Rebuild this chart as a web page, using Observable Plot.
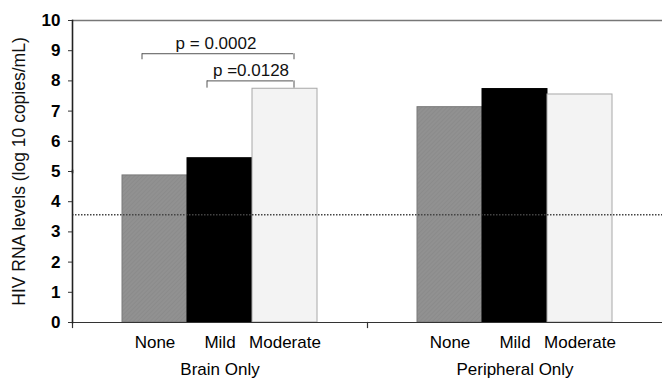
<!DOCTYPE html>
<html>
<head>
<meta charset="utf-8">
<script src="https://cdn.jsdelivr.net/npm/d3@7"></script>
<script src="https://cdn.jsdelivr.net/npm/@observablehq/plot@0.6"></script>
<style>
  html, body { margin: 0; padding: 0; background: #fff; }
  svg { font-family: "Liberation Sans", Arial, sans-serif; }
</style>
</head>
<body>
<div id="chart"></div>
<script>
const groups = ["Brain Only", "Peripheral Only"];
const severities = ["None", "Mild", "Moderate"];
const brainValues = [4.87, 5.44, 7.74];
const peripheralValues = [7.13, 7.73, 7.55];
const yTicks = [0, 1, 2, 3, 4, 5, 6, 7, 8, 9, 10];
const yLabel = "HIV RNA levels (log 10 copies/mL)";
const detectionLimit = 3.57;

const bracketFrom = ["None", "Mild"];
const bracketTo = ["Moderate", "Moderate"];
const bracketY = [8.9, 8.0];
const bracketLowLeft = [8.7, 7.76];
const bracketLowRight = [8.7, 7.76];
const bracketLabels = ["p = 0.0002", "p =0.0128"];

const data = [];
groups.forEach((g, gi) => {
  const vals = gi === 0 ? brainValues : peripheralValues;
  severities.forEach((s, si) => data.push({group: g, severity: s, value: vals[si]}));
});
const brackets = bracketLabels.map((label, i) => ({
  group: "Brain Only", from: bracketFrom[i], to: bracketTo[i], y: bracketY[i],
  lowL: bracketLowLeft[i], lowR: bracketLowRight[i], label
}));

const fillColor = {None: "url(#hatch)", Mild: "#000000", Moderate: "#f3f3f3"};
const strokeColor = {None: "#7a7a7a", Mild: "#000000", Moderate: "#a8a8a8"};

const chart = Plot.plot({
  width: 662,
  height: 379,
  marginLeft: 72,
  marginRight: 0,
  marginTop: 20,
  marginBottom: 57,
  style: {fontFamily: "'Liberation Sans', Arial, sans-serif", background: "#fff"},
  fx: {domain: groups, padding: 0},
  x: {domain: severities, paddingInner: 0, paddingOuter: 0.75},
  y: {domain: [0, 10]},
  marks: [
    Plot.barY(data, {
      fx: "group", x: "severity", y: "value",
      fill: d => fillColor[d.severity],
      stroke: d => strokeColor[d.severity],
      strokeWidth: 1
    }),
    Plot.ruleY([detectionLimit], {stroke: "#444", strokeWidth: 1.6, strokeDasharray: "1.5,1.5"}),
    Plot.ruleY([10], {stroke: "#777", strokeWidth: 1.3}),
    Plot.ruleY([0], {stroke: "#333", strokeWidth: 1.2}),
    Plot.frame({anchor: "left", stroke: "#333", strokeWidth: 1.2, insetTop: 302, insetBottom: -5}),
    Plot.frame({anchor: "left", facetAnchor: "left", stroke: "#222", strokeWidth: 1.6, insetTop: 150}),
    Plot.frame({anchor: "left", facetAnchor: "left", stroke: "#222", strokeWidth: 1.6, insetBottom: 150}),
    Plot.ruleY(brackets, {fx: "group", x1: "from", x2: "to", y: "y", insetLeft: 20, insetRight: 24, stroke: "#555", strokeWidth: 1}),
    Plot.ruleX(brackets, {fx: "group", x: "from", y1: "y", y2: "lowL", dx: -13, stroke: "#555", strokeWidth: 1}),
    Plot.ruleX(brackets, {fx: "group", x: "to", y1: "y", y2: "lowR", dx: 9, stroke: "#555", strokeWidth: 1}),
    Plot.text(brackets.slice(0, 1), {fx: "group", x: "from", y: "y", text: "label", dx: 61, dy: -5, lineAnchor: "bottom", fontSize: 17, fill: "#111"}),
    Plot.text(brackets.slice(1, 2), {fx: "group", x: "from", y: "y", text: "label", dx: 31, dy: -5, lineAnchor: "bottom", fontSize: 17, fill: "#111"}),
    Plot.axisY({
      ticks: yTicks, tickFormat: d => String(d), tickSize: 4, tickPadding: 8,
      fontSize: 17, fontWeight: "bold", stroke: "#333", label: null
    }),
    Plot.text([yLabel], {
      text: d => d, frameAnchor: "left", facetAnchor: "left", rotate: -90, dx: -53,
      textAnchor: "middle", fontSize: 17.5, fill: "#111"
    }),
    Plot.axisX({tickSize: 0, tickPadding: 13, fontSize: 17, label: null}),
    Plot.axisFx({anchor: "bottom", tickSize: 0, tickPadding: 40, fontSize: 17, label: null})
  ]
});

const defs = d3.create("svg:defs");
const pat = defs.append("pattern").attr("id", "hatch").attr("patternUnits", "userSpaceOnUse")
  .attr("width", 3).attr("height", 3).attr("patternTransform", "rotate(45)");
pat.append("rect").attr("width", 3).attr("height", 3).attr("fill", "#919191");
pat.append("line").attr("x1", 0).attr("y1", 0).attr("x2", 0).attr("y2", 3).attr("stroke", "#858585").attr("stroke-width", 1);
chart.insertBefore(defs.node(), chart.firstChild);

document.getElementById("chart").appendChild(chart);
</script>
</body>
</html>
